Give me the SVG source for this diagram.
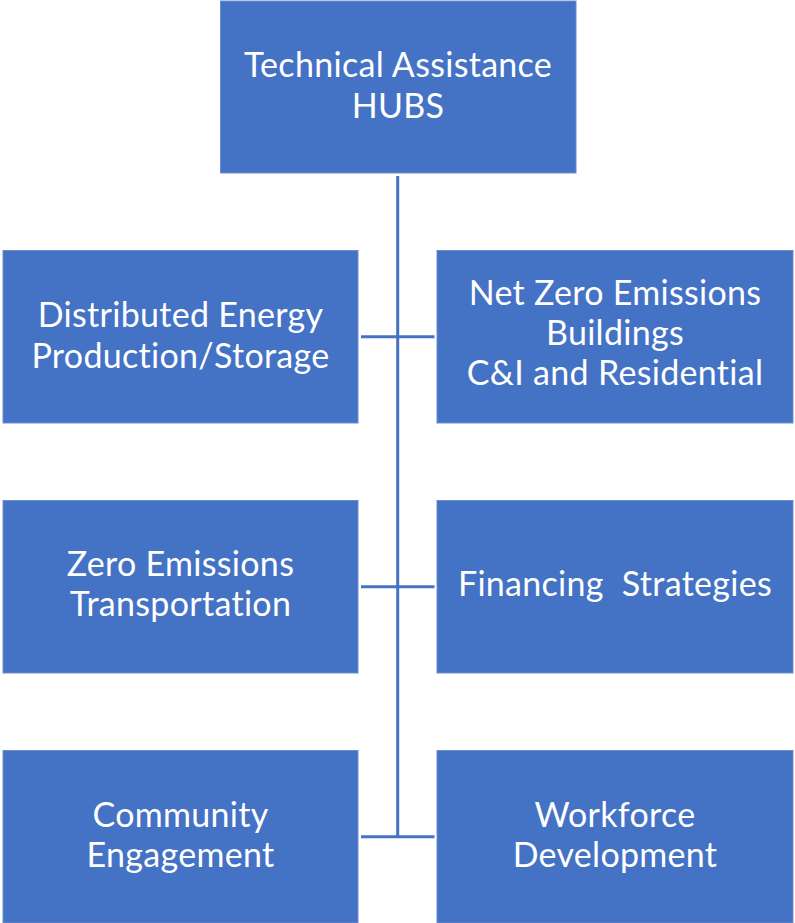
<svg xmlns="http://www.w3.org/2000/svg" width="795" height="923" viewBox="0 0 795 923">
  <style>
    .box { fill: #4472C4; stroke: #6A8DD0; stroke-width: 1; }
    .lbl { fill: #FFFFFF; font-family: Lato, "Open Sans", "Liberation Sans", sans-serif; font-size: 34px; letter-spacing: 0.3px; font-variant-ligatures: none; text-anchor: middle; }
    .link { stroke: #4472C4; stroke-width: 3; fill: none; }
  </style>
  <rect width="795" height="923" fill="#FFFFFF"/>

  <!-- connectors: trunk from the hub down, with a tee at each row -->
  <g id="connectors">
    <line class="link" x1="397.7" y1="176" x2="397.7" y2="837"/>
    <line class="link" x1="361" y1="336.7" x2="434.5" y2="336.7"/>
    <line class="link" x1="361" y1="586.7" x2="434.5" y2="586.7"/>
    <line class="link" x1="361" y1="836.7" x2="434.5" y2="836.7"/>
  </g>

  <g id="hub">
    <rect class="box" x="220.5" y="1" width="355.5" height="172"/>
    <text class="lbl" x="398" y="77">Technical Assistance</text>
    <text class="lbl" x="398" y="118">HUBS</text>
  </g>

  <g id="distributed-energy">
    <rect class="box" x="3" y="250.5" width="355" height="172.5"/>
    <text class="lbl" x="180.5" y="327">Distributed Energy</text>
    <text class="lbl" x="180.5" y="368">Production/Storage</text>
  </g>

  <g id="net-zero-buildings">
    <rect class="box" x="437" y="250.5" width="356" height="172.5"/>
    <text class="lbl" x="615" y="305">Net Zero Emissions</text>
    <text class="lbl" x="615" y="345">Buildings</text>
    <text class="lbl" x="615" y="385">C&amp;I and Residential</text>
  </g>

  <g id="zero-emissions-transportation">
    <rect class="box" x="3" y="500.5" width="355" height="172.5"/>
    <text class="lbl" x="180.5" y="576">Zero Emissions</text>
    <text class="lbl" x="180.5" y="616">Transportation</text>
  </g>

  <g id="financing-strategies">
    <rect class="box" x="437" y="500.5" width="356" height="172.5"/>
    <text class="lbl" x="615" y="596" xml:space="preserve">Financing  Strategies</text>
  </g>

  <g id="community-engagement">
    <rect class="box" x="3" y="750.5" width="355" height="172.5"/>
    <text class="lbl" x="180.5" y="827">Community</text>
    <text class="lbl" x="180.5" y="867">Engagement</text>
  </g>

  <g id="workforce-development">
    <rect class="box" x="437" y="750.5" width="356" height="172.5"/>
    <text class="lbl" x="615" y="827">Workforce</text>
    <text class="lbl" x="615" y="867">Development</text>
  </g>
</svg>
